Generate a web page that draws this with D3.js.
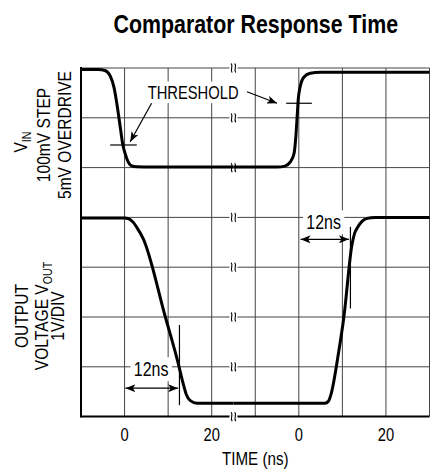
<!DOCTYPE html>
<html>
<head>
<meta charset="utf-8">
<script src="https://cdn.jsdelivr.net/npm/d3@7"></script>
<style>
  html, body { margin: 0; padding: 0; background: #fff; }
  svg { display: block; }
  text { font-family: "Liberation Sans", Arial, sans-serif; fill: #000; }
</style>
</head>
<body>
<script>
// time ranges of the two panels (ns), the chart is broken in the middle
var panel1Time = [-10, 25]
var panel2Time = [-15, 30]
var tickLabels = [0, 20]
var gridTimes1 = [0, 10, 20]
var gridTimes2 = [-10, 0, 10, 20, 30]

// input step, mV (top trace)  [time ns, mV]
var vin1 = [[-10, 98.5], [-6, 98.5], [-4.5, 97.5], [-3.3, 92], [-2.4, 80], [-1.8, 65], [-1, 41], [-0.4, 23], [0.1, 14.5], [0.8, 6], [1.5, 2], [2.8, 0.8], [6, 0.6], [25, 0.6]]
var vin2 = [[-15, 0.6], [-5, 0.6], [-3.2, 1.5], [-2, 5.5], [-1.1, 14], [-0.7, 30], [-0.4, 50], [-0.1, 70], [0.3, 81], [1.1, 90.5], [2.6, 94.7], [5, 95.7], [30, 95.7]]

// output voltage, V (bottom trace)
var vout1 = [[-10, 3.99], [0, 3.99], [1, 3.97], [2, 3.9], [2.8, 3.8], [4.3, 3.57], [9.3, 2.02], [12.4, 1.04], [13.4, 0.68], [14.2, 0.44], [15.1, 0.32], [16.6, 0.27], [25, 0.27]]
var vout2 = [[-15, 0.27], [6, 0.27], [6.8, 0.31], [7.4, 0.45], [9.1, 1.27], [10.3, 1.97], [12.2, 3.45], [12.8, 3.68], [13.5, 3.8], [14.5, 3.92], [15.7, 3.98], [17.5, 4.0], [30, 4.0]]

var W = 430, H = 469
var pL = 81, pR = 429.5, pT = 68, pB = 416.6
var colW = (pR - pL) / 8
var xBreak = pL + 3.5 * colW
var NARROW = 0.82   // no condensed face installed, squeeze the regular one

var x1 = d3.scaleLinear().domain(panel1Time).range([pL, xBreak])
var x2 = d3.scaleLinear().domain(panel2Time).range([xBreak, pR])
var yDiv = d3.scaleLinear().domain([0, 7]).range([pB, pT])
var yIn = d3.scaleLinear().domain([0, 100]).range([yDiv(5), yDiv(7)])
var yOut = d3.scaleLinear().domain([0, 4]).range([yDiv(0), yDiv(4)])

var svg = d3.select("body").append("svg")
  .attr("width", W)
  .attr("height", H)

var defs = svg.append("defs")
defs.append("marker")
  .attr("id", "head")
  .attr("viewBox", "0 0 10 8")
  .attr("refX", 10).attr("refY", 4)
  .attr("markerWidth", 10).attr("markerHeight", 8)
  .attr("markerUnits", "userSpaceOnUse")
  .attr("orient", "auto-start-reverse")
  .append("path")
  .attr("d", "M0,0 L10,4 L0,8 L2.5,4 Z")
  .attr("fill", "#000")

// text helper: condensed by a horizontal scale
function label(parent, x, y, str, size, anchor, rot, sx) {
  var g = parent.append("g")
    .attr("transform", "translate(" + x + "," + y + ")" + (rot ? " rotate(" + rot + ")" : "") + " scale(" + (sx || NARROW) + ",1)")
  var t = g.append("text").attr("text-anchor", anchor).attr("font-size", size)
  if (str) t.text(str)
  return t
}

// grid
var grid = svg.append("g").attr("stroke", "#444").attr("stroke-width", 1)
grid.selectAll(".gv1").data(gridTimes1).enter().append("line")
  .attr("x1", function(d) { return x1(d) }).attr("x2", function(d) { return x1(d) })
  .attr("y1", pT).attr("y2", pB)
grid.selectAll(".gv2").data(gridTimes2).enter().append("line")
  .attr("x1", function(d) { return x2(d) }).attr("x2", function(d) { return x2(d) })
  .attr("y1", pT).attr("y2", pB)
grid.selectAll(".gh").data(d3.range(1, 8)).enter().append("line")
  .attr("x1", pL).attr("x2", pR)
  .attr("y1", function(d) { return yDiv(d) }).attr("y2", function(d) { return yDiv(d) })

// frame, left and bottom heavier
svg.append("line").attr("x1", pL).attr("x2", pL).attr("y1", pT - 1).attr("y2", pB + 1)
  .attr("stroke", "#000").attr("stroke-width", 2)
svg.append("line").attr("x1", pL).attr("x2", pR).attr("y1", pB).attr("y2", pB)
  .attr("stroke", "#000").attr("stroke-width", 2)

// labels with white boxes that knock out the grid
var annot = svg.append("g")
function boxedText(x, y, txt, anchor, size) {
  var t = label(annot, x, y, txt, size, anchor)
  var bb = t.node().getBBox()
  d3.select(t.node().parentNode).insert("rect", "text")
    .attr("x", bb.x - 4).attr("y", bb.y - 1)
    .attr("width", bb.width + 8).attr("height", bb.height + 2)
    .attr("fill", "#fff")
  return t
}
boxedText(x1(5.3), yIn(69), "THRESHOLD", "start", 18)
boxedText(x1(6.1), yOut(0.82), "12ns", "middle", 19.5)
boxedText(x2(5.7), yOut(3.77), "12ns", "middle", 19.5)

// break marks on every horizontal line
var brk = svg.append("g")
d3.range(0, 8).forEach(function(d) {
  var cy = yDiv(d)
  brk.append("rect").attr("x", xBreak - 4).attr("y", cy - 1.5).attr("width", 8).attr("height", 3).attr("fill", "#fff")
  ;[-1.8, 1.8].forEach(function(dx) {
    var cx = xBreak + dx
    brk.append("path")
      .attr("d", "M" + (cx - 0.6) + "," + (cy - 4.5) + " C" + (cx + 2.2) + "," + (cy - 2) + " " + (cx - 2.2) + "," + (cy + 2) + " " + (cx + 0.6) + "," + (cy + 4.5))
      .attr("fill", "none").attr("stroke", "#000").attr("stroke-width", 1.1)
  })
})

// traces
function trace(data, xs, ys) {
  svg.append("path")
    .datum(data)
    .attr("fill", "none")
    .attr("stroke", "#000")
    .attr("stroke-width", 3)
    .attr("stroke-linejoin", "round")
    .attr("d", d3.line()
      .x(function(d) { return xs(d[0]) })
      .y(function(d) { return ys(d[1]) })
      .curve(d3.curveMonotoneX))
}
trace(vin1, x1, yIn)
trace(vin2, x2, yIn)
trace(vout1, x1, yOut)
trace(vout2, x2, yOut)

// threshold ticks and arrows
var ann = svg.append("g").attr("stroke", "#000").attr("stroke-width", 1.2).attr("fill", "none")
ann.append("line").attr("x1", x1(-3.3)).attr("x2", x1(2.8)).attr("y1", yIn(22.7)).attr("y2", yIn(22.7))
ann.append("line").attr("x1", x2(-2.9)).attr("x2", x2(3.0)).attr("y1", yIn(64.6)).attr("y2", yIn(64.6))
ann.append("line").attr("x1", x1(6.2)).attr("y1", yIn(64.6)).attr("x2", x1(1.3)).attr("y2", yIn(26))
  .attr("marker-end", "url(#head)")
ann.append("line").attr("x1", x2(-11.9)).attr("y1", yIn(76.2)).attr("x2", x2(-5.0)).attr("y2", yIn(64.6))
  .attr("marker-end", "url(#head)")

// 12ns markers
ann.append("line").attr("x1", x1(12.6)).attr("x2", x1(12.6)).attr("y1", yOut(1.84)).attr("y2", yOut(0.23))
ann.append("line").attr("x1", x1(0.2)).attr("x2", x1(12.3)).attr("y1", yOut(0.57)).attr("y2", yOut(0.57))
  .attr("marker-start", "url(#head)").attr("marker-end", "url(#head)")
ann.append("line").attr("x1", x2(11.85)).attr("x2", x2(11.85)).attr("y1", yOut(3.81)).attr("y2", yOut(2.17))
ann.append("line").attr("x1", x2(0.4)).attr("x2", x2(11.5)).attr("y1", yOut(3.56)).attr("y2", yOut(3.56))
  .attr("marker-start", "url(#head)").attr("marker-end", "url(#head)")

// time tick labels
var tl = svg.append("g")
tickLabels.forEach(function(d) {
  label(tl, x1(d), 440.7, String(d), 18, "middle")
  label(tl, x2(d), 440.7, String(d), 18, "middle")
})

label(svg, (pL + pR) / 2, 464.5, "TIME (ns)", 18.5, "middle")

label(svg, (pL + pR) / 2 + 0.5, 33.3, "Comparator Response Time", 25, "middle", 0, 0.855)
  .attr("font-weight", "bold")

// rotated y labels
function yLabel(cx, cy, parts, size) {
  var t = label(svg, cx, cy, null, size, "middle", -90)
  parts.forEach(function(p) {
    var s = t.append("tspan").text(p[0])
    if (p[1]) s.attr("font-size", 13).attr("dy", 4)
  })
}
yLabel(27, 142, [["V"], ["IN", true]], 19)
yLabel(49.5, 135, [["100mV STEP"]], 19)
yLabel(71, 135, [["5mV OVERDRIVE"]], 19)
yLabel(28, 316, [["OUTPUT"]], 19)
yLabel(47.5, 316, [["VOLTAGE V"], ["OUT", true]], 19)
yLabel(63.5, 316, [["1V/DIV"]], 19)
</script>
</body>
</html>
